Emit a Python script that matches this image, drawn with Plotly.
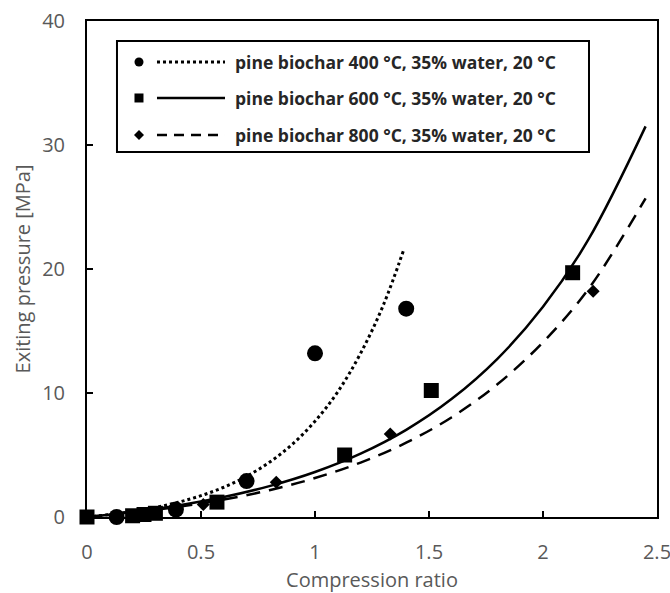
import plotly.graph_objects as go

# ---- measured data points ----
circ_x = [0.13, 0.39, 0.70, 1.00, 1.40]
circ_y = [0.0, 0.6, 2.9, 13.2, 16.8]
sq_x = [0.0, 0.20, 0.25, 0.30, 0.57, 1.13, 1.51, 2.13]
sq_y = [0.0, 0.1, 0.2, 0.3, 1.2, 5.0, 10.2, 19.7]
dia_x = [0.26, 0.51, 0.83, 1.33, 2.22]
dia_y = [0.2, 1.0, 2.8, 6.7, 18.2]

# ---- trend curves ----
c400_x = [0, 0.1, 0.2, 0.3, 0.4, 0.5, 0.6, 0.7, 0.8, 0.9, 1.0, 1.1, 1.2, 1.3, 1.39]
c400_y = [0, 0.2, 0.45, 0.77, 1.19, 1.72, 2.40, 3.28, 4.41, 5.86, 7.72, 10.1, 13.2, 17.1, 21.6]
c600_x = [0, 0.2, 0.4, 0.6, 0.8, 1.0, 1.2, 1.4, 1.6, 1.8, 2.0, 2.2, 2.45]
c600_y = [0, 0.40, 0.93, 1.61, 2.49, 3.63, 5.11, 7.03, 9.53, 12.76, 16.95, 22.4, 31.5]
c800_x = [0, 0.2, 0.4, 0.6, 0.8, 1.0, 1.2, 1.4, 1.6, 1.8, 2.0, 2.2, 2.45]
c800_y = [0, 0.36, 0.82, 1.41, 2.16, 3.14, 4.39, 5.99, 8.05, 10.7, 14.1, 18.4, 25.7]

legend_labels = ["pine biochar 400 °C, 35% water, 20 °C",
                 "pine biochar 600 °C, 35% water, 20 °C",
                 "pine biochar 800 °C, 35% water, 20 °C"]

x_ticks = [0, 0.5, 1, 1.5, 2, 2.5]
x_tick_text = ["0", "0.5", "1", "1.5", "2", "2.5"]
y_ticks = [0, 10, 20, 30, 40]

FONT = "Open Sans"
GRAY = "#595959"

fig = go.Figure()
fig.add_trace(go.Scatter(x=c400_x, y=c400_y, mode="lines", line=dict(color="black", width=3, dash="dot", shape="spline"), showlegend=False))
fig.add_trace(go.Scatter(x=c600_x, y=c600_y, mode="lines", line=dict(color="black", width=2.5, shape="spline"), showlegend=False))
fig.add_trace(go.Scatter(x=c800_x, y=c800_y, mode="lines", line=dict(color="black", width=2.5, dash="14px,9px", shape="spline"), showlegend=False))
fig.add_trace(go.Scatter(x=circ_x, y=circ_y, mode="markers", marker=dict(symbol="circle", size=16, color="black"), cliponaxis=False, showlegend=False))
fig.add_trace(go.Scatter(x=sq_x, y=sq_y, mode="markers", marker=dict(symbol="square", size=15, color="black"), cliponaxis=False, showlegend=False))
fig.add_trace(go.Scatter(x=dia_x, y=dia_y, mode="markers", marker=dict(symbol="diamond", size=10, color="black"), cliponaxis=False, showlegend=False))

# ---- manual legend (paper coords) ----
shapes = []
annotations = []
shapes.append(dict(type="rect", xref="paper", yref="paper", x0=0.0526, x1=0.8807, y0=0.7359, y1=0.9597,
                   line=dict(color="black", width=2), fillcolor="white", layer="above"))
rows_y = [0.9173, 0.8448, 0.7702]
mx, lx0, lx1, tx = 0.0912, 0.1228, 0.2421, 0.2561
dashes = ["dot", "solid", "10px,7px"]
for i, ry in enumerate(rows_y):
    if i == 0:
        shapes.append(dict(type="circle", xref="paper", yref="paper", xsizemode="pixel", ysizemode="pixel",
                           xanchor=mx, yanchor=ry, x0=-4.5, x1=4.5, y0=-4.5, y1=4.5,
                           fillcolor="black", line=dict(color="black", width=0), layer="above"))
    elif i == 1:
        shapes.append(dict(type="rect", xref="paper", yref="paper", xsizemode="pixel", ysizemode="pixel",
                           xanchor=mx, yanchor=ry, x0=-4.5, x1=4.5, y0=-4.5, y1=4.5,
                           fillcolor="black", line=dict(color="black", width=0), layer="above"))
    else:
        shapes.append(dict(type="path", xref="paper", yref="paper", xsizemode="pixel", ysizemode="pixel",
                           xanchor=mx, yanchor=ry, path="M0,5 L5,0 L0,-5 L-5,0 Z",
                           fillcolor="black", line=dict(color="black", width=0), layer="above"))
    shapes.append(dict(type="line", xref="paper", yref="paper", x0=lx0, x1=lx1, y0=ry, y1=ry,
                       line=dict(color="black", width=3 if i == 0 else 2.5, dash=dashes[i]), layer="above"))
    annotations.append(dict(xref="paper", yref="paper", x=tx, y=ry, xanchor="left", yanchor="middle",
                            text="<b>" + legend_labels[i] + "</b>", showarrow=False,
                            font=dict(family=FONT, size=17.5, color="#262626")))

fig.update_layout(
    width=670, height=593,
    margin=dict(l=87, r=13, t=21, b=76),
    paper_bgcolor="white", plot_bgcolor="white",
    showlegend=False,
    shapes=shapes, annotations=annotations,
    font=dict(family=FONT, color=GRAY),
    xaxis=dict(range=[0, 2.5], tickvals=x_ticks, ticktext=x_tick_text, ticks="inside", ticklen=6,
               tickwidth=2, tickcolor="black", showline=True, linecolor="black", linewidth=2, mirror=True,
               showgrid=False, zeroline=False, tickfont=dict(family=FONT, size=20, color=GRAY),
               ticklabelstandoff=16, automargin=False, ticklabeloverflow="allow",
               title=dict(text="Compression ratio", font=dict(family=FONT, size=20, color=GRAY), standoff=14)),
    yaxis=dict(range=[0, 40], tickvals=y_ticks, ticks="inside", ticklen=6,
               tickwidth=2, tickcolor="black", showline=True, linecolor="black", linewidth=2, mirror=True,
               showgrid=False, zeroline=False, tickfont=dict(family=FONT, size=20, color=GRAY),
               ticklabelstandoff=16, automargin=False, ticklabeloverflow="allow",
               title=dict(text="Exiting pressure [MPa]", font=dict(family=FONT, size=20, color=GRAY), standoff=6)),
)

fig.write_html("out.html")
